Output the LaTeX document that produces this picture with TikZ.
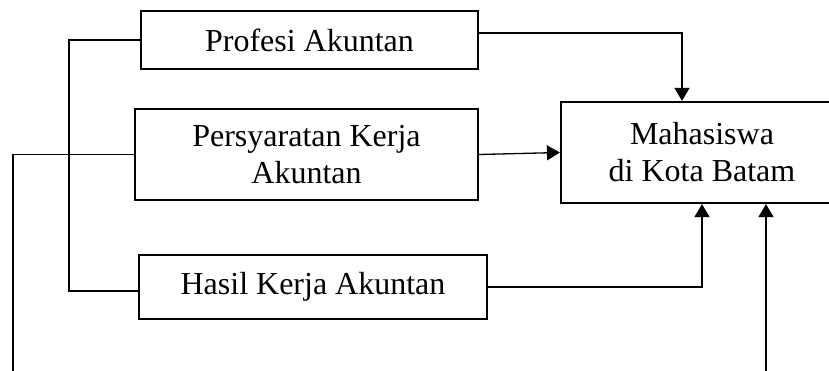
\documentclass[tikz,border=0pt]{standalone}
\usepackage{fontspec}
\setmainfont{Liberation Serif}
\usetikzlibrary{arrows.meta}
\begin{document}
\begin{tikzpicture}[x=1pt,y=-1pt,
  box/.style={draw,line width=2.2pt,inner sep=0pt,align=center,
    font=\fontsize{32}{37}\selectfont},
  conn/.style={line width=1.3pt},
  arr/.style={conn,-{Triangle[length=13pt,width=15pt]}}]
\clip (0,0) rectangle (829,371);
\node[box,minimum width=337pt,minimum height=58pt] (b1) at (309.5,40) {Profesi Akuntan};
\node[box,minimum width=343pt,minimum height=91pt] (b2) at (306.5,154.5) {Persyaratan Kerja\\Akuntan};
\node[box,minimum width=348pt,minimum height=64pt] (b3) at (313,287) {Hasil Kerja Akuntan};
\node[box,minimum width=282pt,minimum height=101pt] (b4) at (702,152.5) {Mahasiswa\\di Kota Batam};
\coordinate (e1) at (13,373);
\coordinate (e2) at (766,373);
\draw[conn] (b1.west) -- ++(-71,0) |- ([yshift=-4pt]b3.west);
\draw[conn] (b2.west) -| (e1);
\draw[arr] ([yshift=7pt]b1.east) -| ([xshift=-20pt]b4.north);
\draw[arr] (b2.east) -- (b4.west);
\draw[arr] (b3.east) -| (b4.south);
\draw[arr] (e2) -- (e2 |- b4.south);
\end{tikzpicture}
\end{document}
